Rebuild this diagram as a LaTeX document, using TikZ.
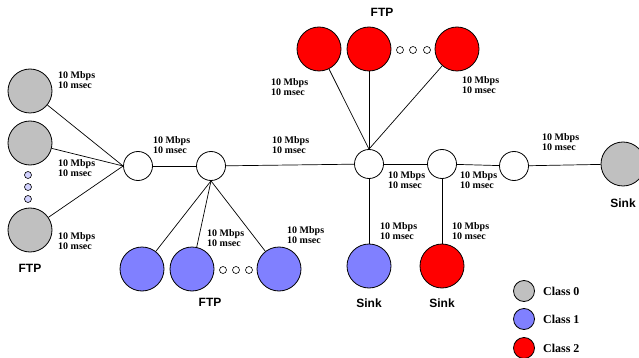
\documentclass[tikz,border=0pt]{standalone}
\usepackage{fontspec}
\setmainfont{Liberation Serif}
\setsansfont{Liberation Sans}
\usetikzlibrary{positioning}
\definecolor{classzero}{RGB}{192,192,192}
\definecolor{classone}{RGB}{128,128,255}
\definecolor{classtwo}{RGB}{255,0,0}
\definecolor{dotfill}{RGB}{210,210,255}

\begin{document}
\begin{tikzpicture}[x=1pt, y=-1pt,
    host/.style={circle, draw, line width=0.8pt, minimum size=44pt, inner sep=0pt},
    router/.style={circle, draw, fill=white, line width=0.8pt, minimum size=29pt, inner sep=0pt},
    gap/.style={circle, draw, fill=white, line width=0.6pt, minimum size=7pt, inner sep=0pt},
    key/.style={circle, draw, line width=0.8pt, minimum size=21pt, inner sep=0pt},
    link/.style={line width=0.7pt},
    lbl/.style={font=\bfseries\fontsize{10}{10.7}\selectfont, align=left, anchor=west, inner sep=0pt},
    grp/.style={font=\sffamily\bfseries\fontsize{12}{14}\selectfont, inner sep=0pt},
    keylbl/.style={font=\bfseries\fontsize{12}{14}\selectfont, inner sep=0pt}
]
    \useasboundingbox (0,0) rectangle (639,358);

    % Routers along the backbone
    \node[router] (r1) at (138,166) {};
    \node[router] (r2) at (211,166) {};
    \node[router] (r3) at (369,164) {};
    \node[router] (r4) at (442,164) {};
    \node[router] (r5) at (514,166) {};

    % Class 0 sources (left)
    \node[host, fill=classzero] (ga) at (30,91) {};
    \node[host, fill=classzero] (gb) at (30,143) {};
    \node[host, fill=classzero] (gc) at (30,230) {};
    \node[gap, fill=dotfill] (gda) at (28,175) {};
    \node[gap, fill=dotfill] (gdb) at (28,187) {};
    \node[gap, fill=dotfill] (gdc) at (28,199) {};
    \node[grp, below=12pt of gc] (ftpzero) {FTP};

    % Class 1 sources (bottom)
    \node[host, fill=classone] (ba) at (142,269) {};
    \node[host, fill=classone] (bb) at (192,269) {};
    \node[host, fill=classone] (bc) at (279,269) {};
    \node[gap] (bda) at (223,270) {};
    \node[gap] (bdb) at (236,270) {};
    \node[gap] (bdc) at (249,270) {};
    \node[grp] (ftpone) at (210,302) {FTP};

    % Class 2 sources (top)
    \node[host, fill=classtwo] (ra) at (319,49) {};
    \node[host, fill=classtwo] (rb) at (369,49) {};
    \node[host, fill=classtwo] (rc) at (457,49) {};
    \node[gap] (rda) at (400,50) {};
    \node[gap] (rdb) at (413,50) {};
    \node[gap] (rdc) at (427,50) {};
    \node[grp] (ftptwo) at (382,12) {FTP};

    % Sinks
    \node[host, fill=classzero] (sz) at (623,164) {};
    \node[grp, below=12pt of sz] (sinkzero) {Sink};
    \node[host, fill=classone] (so) at (369,266) {};
    \node[grp, below=10pt of so] (sinkone) {Sink};
    \node[host, fill=classtwo] (st) at (442,266) {};
    \node[grp, below=10pt of st] (sinktwo) {Sink};

    % Links
    \draw[link] (ga) -- (r1.west);
    \draw[link] (gb) -- (r1.west);
    \draw[link] (gc) -- (r1.west);
    \draw[link] (r1) -- (r2);
    \draw[link] (r2) -- (r3);
    \draw[link] (r3) -- (r4);
    \draw[link] (r4) -- (r5);
    \draw[link] (r5) -- (sz);
    \draw[link] (r2.south) -- (ba);
    \draw[link] (r2.south) -- (bb);
    \draw[link] (r2.south) -- (bc);
    \draw[link] (ra) -- (r3.north);
    \draw[link] (rb) -- (r3.north);
    \draw[link] (rc) -- (r3.north);
    \draw[link] (r3) -- (so);
    \draw[link] (r4) -- (st);

    % Link labels
    \node[lbl] (lga) at (58,80) {10 Mbps\\10 msec};
    \node[lbl] (lgb) at (58,168) {10 Mbps\\10 msec};
    \node[lbl] (lgc) at (58,241) {10 Mbps\\10 msec};
    \node[lbl] (lra) at (153,145) {10 Mbps\\10 msec};
    \node[lbl] (lrb) at (272,145) {10 Mbps\\10 msec};
    \node[lbl] (lrc) at (388,180) {10 Mbps\\10 msec};
    \node[lbl] (lrd) at (460,180) {10 Mbps\\10 msec};
    \node[lbl] (lre) at (542,142) {10 Mbps\\10 msec};
    \node[lbl] (lbb) at (207,238) {10 Mbps\\10 msec};
    \node[lbl] (lbc) at (287,235) {10 Mbps\\10 msec};
    \node[lbl] (lta) at (271,87) {10 Mbps\\10 msec};
    \node[lbl] (ltc) at (462,85) {10 Mbps\\10 msec};
    \node[lbl] (lso) at (380,231) {10 Mbps\\10 msec};
    \node[lbl] (lst) at (452,231) {10 Mbps\\10 msec};

    % Legend
    \node[key, fill=classzero] (kz) at (524,291) {};
    \node[key, fill=classone] (ko) at (524,319) {};
    \node[key, fill=classtwo] (kt) at (524,348) {};
    \node[keylbl, right=8pt of kz] {Class 0};
    \node[keylbl, right=8pt of ko] {Class 1};
    \node[keylbl, right=8pt of kt] {Class 2};
\end{tikzpicture}
\end{document}
